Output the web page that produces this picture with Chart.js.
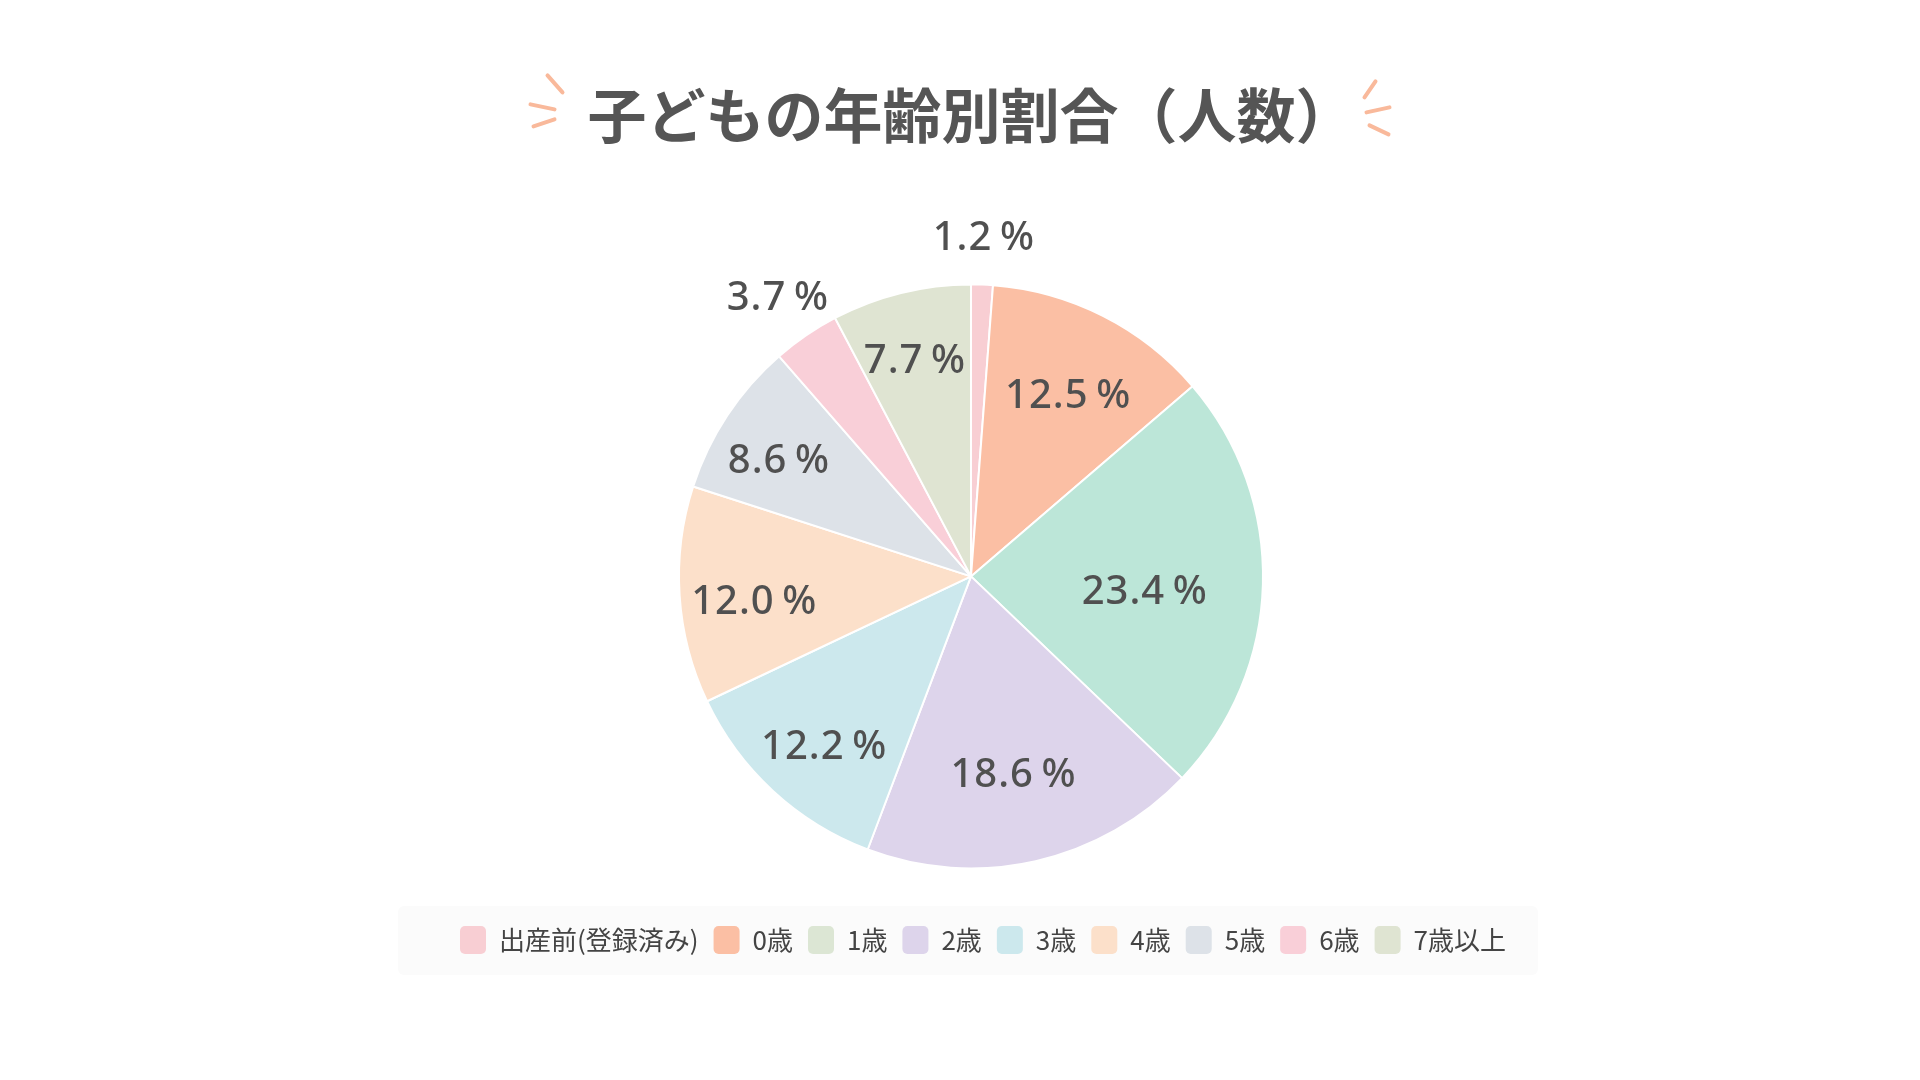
<!DOCTYPE html>
<html lang="ja">
<head>
<meta charset="utf-8">
<title>子どもの年齢別割合（人数）</title>
<script src="https://cdn.jsdelivr.net/npm/chart.js@4.4.1/dist/chart.umd.min.js"></script>
<style>
body{
margin:0;
background:#ffffff;
}
#caixa{
width:1920px;
height:1080px;
}
</style>
</head>
<body>
<div id="caixa">
<canvas id="graficoIdade"></canvas>
</div>
<script>
const categorias = [
"出産前(登録済み)",
"0歳",
"1歳",
"2歳",
"3歳",
"4歳",
"5歳",
"6歳",
"7歳以上"
];

const porcentagens = [1.2, 12.5, 23.4, 18.6, 12.2, 12.0, 8.6, 3.7, 7.7];

const coresFatias = [
"#f8ced3",
"#fbbfa4",
"#bce6d8",
"#ddd4eb",
"#cce8ed",
"#fce0ca",
"#dde2e8",
"#f9cfd8",
"#dfe4d2"
];

const coresLegenda = [
"#f8ced3",
"#fbbfa4",
"#dce6d4",
"#ddd4eb",
"#cce8ed",
"#fce0ca",
"#dde2e8",
"#f9cfd8",
"#dfe4d2"
];

const tituloTexto = "子どもの年齢別割合（人数）";
const tituloFonte = {family:"'Noto Sans CJK JP', sans-serif", size:59, weight:"bold"};
const desvioLegenda = 12;

// empurra a legenda um pouco para a direita
const moverLegenda = {
id:"moverLegenda",
afterLayout(chart){
const leg = chart.legend;
if(!leg) return;
leg.left += desvioLegenda;
leg.right += desvioLegenda;
}
};

// fundo claro atras da legenda
const fundoLegenda = {
id:"fundoLegenda",
beforeDraw(chart){
const leg = chart.legend;
if(!leg || !leg.legendHitBoxes.length) return;
const caixas = leg.legendHitBoxes;
let esq = caixas[0].left;
let dir = caixas[caixas.length-1].left + caixas[caixas.length-1].width;
const ctx = chart.ctx;
ctx.save();
ctx.fillStyle = "#fbfbfb";
ctx.beginPath();
ctx.roundRect(esq-62, leg.top-5, (dir-esq)+94, 69, 6);
ctx.fill();
ctx.restore();
}
};

// tracinhos decorativos ao lado do titulo
const faiscas = {
id:"faiscas",
afterDraw(chart){
const t = chart.titleBlock;
if(!t) return;
const ctx = chart.ctx;
ctx.save();
ctx.font = "bold 59px 'Noto Sans CJK JP', sans-serif";
const w = ctx.measureText(tituloTexto).width;
const cx = (t.left + t.right)/2;
const cy = t.top + 59*1.2/2;
const e = cx - w/2;
const d = cx + w/2 - 15;
const tracos = [
[e-40,cy-40,e-25,cy-23],
[e-57,cy-11,e-33,cy-6],
[e-54,cy+11,e-33,cy+4],
[d+36,cy-34,d+25,cy-18],
[d+27,cy-3,d+50,cy-8],
[d+30,cy+10,d+49,cy+19]
];
ctx.strokeStyle = "#f9b99b";
ctx.lineWidth = 4;
ctx.lineCap = "round";
tracos.forEach(p=>{
ctx.beginPath();
ctx.moveTo(p[0],p[1]);
ctx.lineTo(p[2],p[3]);
ctx.stroke();
});
ctx.restore();
}
};

// rotulos de porcentagem nas fatias
const rotulos = {
id:"rotulos",
afterDatasetsDraw(chart){
const ctx = chart.ctx;
const meta = chart.getDatasetMeta(0);
ctx.save();
ctx.font = "500 40px 'Noto Sans', sans-serif";
ctx.letterSpacing = "1px";
ctx.fillStyle = "#505050";
ctx.textAlign = "center";
ctx.textBaseline = "middle";
meta.data.forEach((arco,i)=>{
const p = arco.getProps(["x","y","startAngle","endAngle","outerRadius"], true);
const meio = (p.startAngle + p.endAngle)/2;
const fatia = (p.endAngle - p.startAngle)/(2*Math.PI)*100;
const valor = chart.data.datasets[0].data[i];
// fatias pequenas ficam do lado de fora
const fora = fatia < 5;
const r = fora ? p.outerRadius*1.17 : p.outerRadius*(0.9 - 0.013*fatia);
const x = p.x + Math.cos(meio)*r;
const y = p.y + Math.sin(meio)*r + (fora ? 4 : 12);
ctx.fillText(valor.toFixed(1) + "\u2009%", x, y);
});
ctx.restore();
}
};

const ctx = document.getElementById("graficoIdade");

new Chart(ctx,{
type:"pie",
data:{
labels:categorias,
datasets:[{
data:porcentagens,
backgroundColor:coresFatias,
borderColor:"#ffffff",
borderWidth:2,
radius:292
}]
},
options:{
responsive:true,
maintainAspectRatio:false,
animation:false,
layout:{
padding:{top:80, bottom:116, left:22, right:0}
},
plugins:{
title:{
display:true,
text:tituloTexto,
color:"#555555",
font:tituloFonte,
padding:{top:0, bottom:91}
},
legend:{
position:"bottom",
labels:{
color:"#444444",
font:{family:"'Noto Sans CJK JP', sans-serif", size:26},
boxWidth:26,
boxHeight:28,
padding:15,
useBorderRadius:true,
borderRadius:5,
generateLabels(chart){
const itens = Chart.overrides.pie.plugins.legend.labels.generateLabels(chart);
itens.forEach((item,i)=>{
item.fillStyle = coresLegenda[i];
item.strokeStyle = coresLegenda[i];
item.lineWidth = 0;
});
return itens;
}
}
},
tooltip:{enabled:false}
}
},
plugins:[moverLegenda, fundoLegenda, rotulos, faiscas]
});
</script>
</body>
</html>
